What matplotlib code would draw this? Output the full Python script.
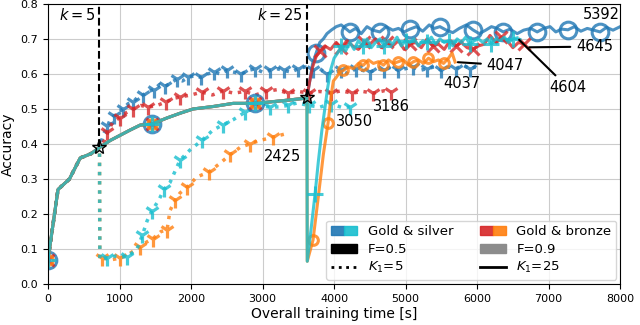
import matplotlib
matplotlib.use("Agg")
import matplotlib.pyplot as plt
from matplotlib.patches import Patch
from matplotlib.lines import Line2D
from matplotlib.legend_handler import HandlerTuple

# ------------------------------------------------------------------------------------------------
# Données
# ------------------------------------------------------------------------------------------------
# Phase commune (K1=25) jusqu'au point k=25
t_commun = [0, 140, 300, 450, 600, 720, 870, 1010, 1150, 1290, 1455, 1660, 1850, 2030, 2310,
            2590, 2900, 3250, 3570, 3620]
acc_commun = [0.07, 0.27, 0.30, 0.36, 0.372, 0.39, 0.41, 0.425, 0.44, 0.454, 0.457, 0.474, 0.488,
              0.50, 0.507, 0.516, 0.516, 0.523, 0.53, 0.533]
n_k5 = 6  # les K1=5 partagent les 6 premiers points

# Points k (changement de phase)
k_valeurs = [5, 25]
k_t = [720, 3620]
k_acc = [0.39, 0.533]

# Gold & silver, F=0.5, K1=25 (bleu)
t_b25 = [3660, 3700, 3750, 3800, 3850, 3900, 3960, 4030, 4100, 4220, 4300, 4380, 4460, 4540, 4640,
         4730, 4820, 4900, 4980, 5060, 5150, 5240, 5330, 5400, 5480, 5570, 5660, 5750, 5850, 5940,
         6030, 6120, 6200, 6280, 6365, 6460, 6560, 6650, 6750, 6840, 6930, 7020, 7100, 7180, 7270,
         7360, 7450, 7540, 7630, 7720, 7810, 7900, 8000]
acc_b25 = [0.58, 0.63, 0.66, 0.69, 0.70, 0.715, 0.725, 0.735, 0.74, 0.72, 0.73, 0.715, 0.735, 0.725,
           0.72, 0.735, 0.725, 0.73, 0.72, 0.728, 0.735, 0.722, 0.74, 0.73, 0.735, 0.725, 0.718,
           0.73, 0.74, 0.726, 0.715, 0.725, 0.735, 0.73, 0.72, 0.728, 0.715, 0.725, 0.73, 0.72,
           0.73, 0.735, 0.72, 0.728, 0.726, 0.735, 0.722, 0.73, 0.725, 0.72, 0.733, 0.725, 0.735]
marq_b25 = [0, 1455, 2900, 3750, 4220, 4640, 5060, 5480, 5940, 6365, 6840, 7270, 7720]

# Gold & bronze, F=0.5, K1=25 (rouge)
t_r25 = [3660, 3700, 3750, 3800, 3870, 3950, 4030, 4100, 4180, 4260, 4340, 4420, 4500, 4580, 4660,
         4740, 4820, 4900, 4980, 5060, 5140, 5220, 5300, 5380, 5460, 5540, 5620, 5700, 5780, 5860,
         5940, 6020, 6100, 6180, 6260, 6340, 6420, 6500, 6580, 6650]
acc_r25 = [0.58, 0.62, 0.65, 0.665, 0.68, 0.67, 0.69, 0.675, 0.695, 0.68, 0.67, 0.69, 0.685, 0.70,
           0.675, 0.69, 0.68, 0.695, 0.67, 0.685, 0.69, 0.675, 0.70, 0.68, 0.685, 0.67, 0.695,
           0.68, 0.69, 0.675, 0.67, 0.68, 0.685, 0.71, 0.69, 0.705, 0.695, 0.675, 0.69, 0.685]
marq_r25 = [0, 1455, 2900, 3800, 4100, 4420, 4740, 5060, 5380, 5700, 5940, 6340, 6650]

# Gold & silver, F=0.9, K1=25 (cyan)
t_c25 = [3625, 3680, 3734, 3780, 3830, 3870, 3910, 3950, 4000, 4050, 4100, 4160, 4220, 4280, 4340,
         4400, 4460, 4520, 4580, 4640, 4700, 4760, 4820, 4880, 4940, 5000, 5060, 5120, 5180, 5240,
         5300, 5360, 5420, 5480, 5540, 5600, 5660, 5720, 5780, 5840, 5900, 5960, 6020, 6080, 6140,
         6200, 6260, 6320, 6380, 6440, 6500, 6560]
acc_c25 = [0.065, 0.16, 0.257, 0.35, 0.44, 0.50, 0.56, 0.61, 0.645, 0.66, 0.68, 0.665, 0.69, 0.67,
           0.695, 0.68, 0.70, 0.675, 0.69, 0.70, 0.68, 0.695, 0.685, 0.705, 0.68, 0.695, 0.69,
           0.70, 0.68, 0.695, 0.69, 0.705, 0.685, 0.70, 0.69, 0.695, 0.68, 0.70, 0.69, 0.705,
           0.685, 0.695, 0.70, 0.69, 0.70, 0.685, 0.70, 0.695, 0.705, 0.69, 0.70, 0.703]
marq_c25 = [0, 1455, 2900, 3734, 4100, 4400, 4700, 5000, 5300, 5600, 5900, 6200, 6500]

# Gold & bronze, F=0.9, K1=25 (orange)
t_o25 = [3625, 3706, 3780, 3850, 3916, 3960, 3990, 4030, 4080, 4130, 4200, 4270, 4340, 4410, 4480,
         4550, 4620, 4690, 4760, 4830, 4900, 4970, 5040, 5110, 5180, 5250, 5320, 5390, 5460, 5530,
         5600, 5650, 5692]
acc_o25 = [0.065, 0.126, 0.25, 0.37, 0.46, 0.54, 0.58, 0.59, 0.605, 0.61, 0.62, 0.615, 0.63, 0.625,
           0.64, 0.63, 0.635, 0.625, 0.64, 0.63, 0.635, 0.64, 0.625, 0.635, 0.64, 0.63, 0.645,
           0.635, 0.64, 0.63, 0.645, 0.66, 0.634]
marq_o25 = [0, 1455, 2900, 3706, 3916, 4130, 4410, 4690, 4900, 5110, 5320, 5530]

# Gold & silver, F=0.5, K1=5 (bleu pointillé)
t_b5 = [780, 830, 870, 920, 980, 1050, 1120, 1190, 1260, 1330, 1400, 1480, 1560, 1640, 1720, 1800,
        1880, 1960, 2050, 2140, 2230, 2320, 2410, 2500, 2600, 2700, 2800, 2900, 3000, 3100, 3200,
        3300, 3400, 3500, 3600, 3700, 3800, 3900, 4000, 4100, 4200, 4300, 4400, 4500, 4600, 4700,
        4800, 4900, 5000, 5100, 5200, 5300, 5400, 5500, 5600, 5700, 5800, 5900, 5980]
acc_b5 = [0.43, 0.45, 0.47, 0.48, 0.49, 0.50, 0.515, 0.52, 0.535, 0.54, 0.55, 0.555, 0.57, 0.565,
          0.575, 0.585, 0.58, 0.59, 0.595, 0.59, 0.60, 0.605, 0.60, 0.61, 0.605, 0.60, 0.61,
          0.615, 0.605, 0.61, 0.615, 0.61, 0.605, 0.615, 0.62, 0.61, 0.615, 0.60, 0.605, 0.61,
          0.60, 0.615, 0.61, 0.605, 0.615, 0.61, 0.62, 0.61, 0.615, 0.62, 0.61, 0.615, 0.62,
          0.61, 0.62, 0.615, 0.625, 0.615, 0.62]

# Gold & bronze, F=0.5, K1=5 (rouge pointillé)
t_r5 = [790, 830, 900, 1000, 1100, 1190, 1300, 1400, 1524, 1650, 1750, 1846, 2000, 2150, 2300, 2450,
        2600, 2750, 2900, 3050, 3200, 3350, 3500, 3650, 3800, 3950, 4100, 4250, 4400, 4550, 4700,
        4800]
acc_r5 = [0.41, 0.434, 0.46, 0.475, 0.49, 0.50, 0.51, 0.505, 0.51, 0.52, 0.53, 0.534, 0.54, 0.548,
          0.54, 0.552, 0.545, 0.55, 0.54, 0.55, 0.555, 0.545, 0.55, 0.545, 0.55, 0.545, 0.552,
          0.545, 0.55, 0.545, 0.552, 0.548]

# Gold & silver, F=0.9, K1=5 (cyan pointillé)
t_c5 = [725, 825, 950, 1100, 1245, 1320, 1385, 1455, 1550, 1620, 1706, 1846, 1986, 2150, 2308, 2450,
        2587, 2750, 2965, 3100, 3245, 3350, 3482, 3650, 3800, 3950, 4100, 4220]
acc_c5 = [0.07, 0.074, 0.08, 0.077, 0.10, 0.14, 0.18, 0.21, 0.24, 0.27, 0.29, 0.354, 0.383, 0.41,
          0.44, 0.455, 0.469, 0.49, 0.51, 0.505, 0.506, 0.51, 0.517, 0.51, 0.505, 0.515, 0.505,
          0.505]

# Gold & bronze, F=0.9, K1=5 (orange pointillé)
t_o5 = [725, 755, 900, 1007, 1147, 1287, 1380, 1468, 1580, 1664, 1706, 1780, 1846, 1944, 2084, 2250,
        2406, 2550, 2685, 2820, 2965, 3150, 3343]
acc_o5 = [0.07, 0.074, 0.07, 0.074, 0.088, 0.106, 0.12, 0.13, 0.15, 0.154, 0.21, 0.24, 0.26, 0.277,
          0.306, 0.32, 0.345, 0.37, 0.39, 0.40, 0.41, 0.42, 0.43]

# Durées affichées en fin de courbe
durees = ["5392", "4645", "4604", "4047", "4037", "3186", "3050", "2425"]

# Couleurs
c_bleu, c_rouge, c_cyan, c_orange = "#1f77b4", "#d62728", "#17becf", "#ff7f0e"

# ------------------------------------------------------------------------------------------------
# Tracé
# ------------------------------------------------------------------------------------------------
fig = plt.figure(figsize=(6.4, 3.25), dpi=100)
ax = fig.add_axes([0.075, 0.126, 0.894, 0.862])
ax.grid(True, color="#cccccc", lw=0.8)
ax.set_axisbelow(True)


def indices(t, marques):
    return [t.index(m) for m in marques if m in t]


# K1=5 (pointillés, marqueurs en Y)
for t, acc, coul in [(t_b5, acc_b5, c_bleu), (t_r5, acc_r5, c_rouge),
                     (t_o5, acc_o5, c_orange), (t_c5, acc_c5, c_cyan)]:
    tt = t_commun[:n_k5] + t
    aa = acc_commun[:n_k5] + acc
    ax.plot(tt, aa, ls=":", lw=2.5, color=coul, alpha=0.8, marker="1", ms=11, mew=2.3,
            markevery=list(range(n_k5 + 1, len(tt), 2)))

# K1=25 (traits pleins)
series_25 = [(t_b25, acc_b25, c_bleu, "o", 12, marq_b25),
             (t_r25, acc_r25, c_rouge, "x", 9, marq_r25),
             (t_o25, acc_o25, c_orange, "o", 7, marq_o25),
             (t_c25, acc_c25, c_cyan, "+", 12, marq_c25)]
for t, acc, coul, mk, taille, marq in series_25:
    tt = t_commun + t
    aa = acc_commun + acc
    ax.plot(tt, aa, ls="-", lw=2.2, color=coul, alpha=0.8, marker=mk, ms=taille, mew=2.2,
            mfc="none", markevery=indices(tt, marq))

# Lignes k=5 et k=25
for kv, kt, ka in zip(k_valeurs, k_t, k_acc):
    ax.plot([kt, kt], [ka, 0.8], "k--", lw=1.5, zorder=5)
    ax.plot(kt, ka, marker="*", ms=11, mfc="none", mec="k", mew=1, zorder=6)
    ax.text(kt - 60, 0.769, f"$k={kv}$", ha="right", va="center", fontsize=10.5)

# Annotations des durées
ann = dict(fontsize=10.5, ha="left", va="center",
           arrowprops=dict(arrowstyle="-", color="k", lw=1.5))
ax.text(8000, 0.771, durees[0], fontsize=10.5, ha="right", va="center")
ax.annotate(durees[1], xy=(t_r25[-1] + 40, 0.676), xytext=(7380, 0.678), **ann)
ax.annotate(durees[2], xy=(t_c25[-1], acc_c25[-1]), xytext=(7010, 0.561), **ann)
ax.annotate(durees[3], xy=(t_o25[-1], acc_o25[-1]), xytext=(6130, 0.625), **ann)
ax.text(5783, 0.573, durees[4], fontsize=10.5, ha="center", va="center")
ax.text(4800, 0.506, durees[5], fontsize=10.5, ha="center", va="center")
ax.text(4280, 0.463, durees[6], fontsize=10.5, ha="center", va="center")
ax.text(3280, 0.363, durees[7], fontsize=10.5, ha="center", va="center")

# Axes
ax.set_xlim(0, 8000)
ax.set_ylim(0, 0.8)
ax.set_xticks(range(0, 8001, 1000))
ax.set_yticks([i / 10 for i in range(9)])
ax.tick_params(labelsize=8)
ax.set_xlabel("Overall training time [s]", fontsize=10, labelpad=2)
ax.set_ylabel("Accuracy", fontsize=10)

# Légende
poignees = [(Patch(color=c_bleu, alpha=0.9), Patch(color=c_cyan, alpha=0.9)),
            Patch(color="k"),
            Line2D([], [], color="k", ls=":", lw=2),
            (Patch(color=c_rouge, alpha=0.9), Patch(color=c_orange, alpha=0.9)),
            Patch(color="#8c8c8c"),
            Line2D([], [], color="k", ls="-", lw=2)]
etiquettes = ["Gold & silver", "F=0.5", "$K_1$=5", "Gold & bronze", "F=0.9", "$K_1$=25"]
ax.legend(poignees, etiquettes, handler_map={tuple: HandlerTuple(ndivide=None, pad=0)},
          ncol=2, loc="lower right", fontsize=9.5, borderaxespad=0.3, labelspacing=0.35,
          borderpad=0.35)

fig.savefig("out.png", dpi=100)
